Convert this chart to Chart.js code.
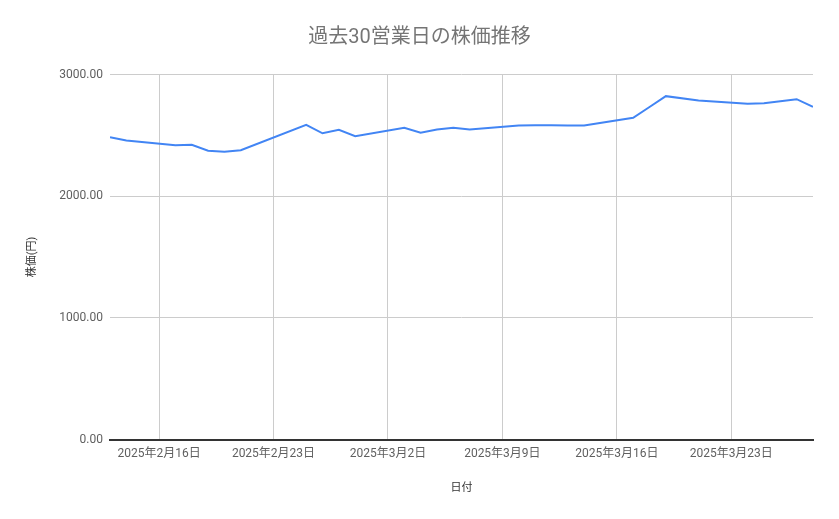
<!DOCTYPE html>
<html>
<head>
<meta charset="utf-8">
<script src="https://cdn.jsdelivr.net/npm/chart.js@4.4.1/dist/chart.umd.min.js"></script>
<style>
  html, body { margin: 0; padding: 0; background: #fff; }
  #wrap { width: 839px; height: 519px; }
</style>
</head>
<body>
<div id="wrap"><canvas id="c" width="839" height="519"></canvas></div>
<script>
// ---- data ----
const startDate = "2025-02-13";
const endDate = "2025-03-28";
const dates = [
  "2025-02-13","2025-02-14",
  "2025-02-17","2025-02-18","2025-02-19","2025-02-20","2025-02-21",
  "2025-02-25","2025-02-26","2025-02-27","2025-02-28",
  "2025-03-03","2025-03-04","2025-03-05","2025-03-06","2025-03-07",
  "2025-03-10","2025-03-11","2025-03-12","2025-03-13","2025-03-14",
  "2025-03-17","2025-03-18","2025-03-19","2025-03-21",
  "2025-03-24","2025-03-25","2025-03-26","2025-03-27","2025-03-28"
];
const prices = [
  2485, 2457,
  2419, 2422, 2373, 2365, 2378,
  2587, 2517, 2545, 2493,
  2562, 2521, 2548, 2562, 2548,
  2581, 2583, 2582, 2581, 2580,
  2644, 2733, 2822, 2786,
  2759, 2764, 2781, 2797, 2734
];
const tickDates = ["2025-02-16","2025-02-23","2025-03-02","2025-03-09","2025-03-16","2025-03-23"];
const yTicks = [0, 1000, 2000, 3000];
const chartTitle = "過去30営業日の株価推移";
const xTitle = "日付";
const yTitle = "株価(円)";

// ---- helpers ----
const DAY = 86400000;
function toUTC(s) { const [y,m,d] = s.split("-").map(Number); return Date.UTC(y, m-1, d); }
const t0 = toUTC(startDate);
function dayIndex(s) { return Math.round((toUTC(s) - t0) / DAY); }
function fmtDay(v) {
  const d = new Date(t0 + v * DAY);
  return d.getUTCFullYear() + "年" + (d.getUTCMonth()+1) + "月" + d.getUTCDate() + "日";
}

const FONT = "Roboto, 'Noto Sans CJK JP', 'Noto Sans', sans-serif";
const points = dates.map((d, i) => ({ x: dayIndex(d), y: prices[i] }));
const tickVals = tickDates.map(dayIndex);

new Chart(document.getElementById("c"), {
  type: "line",
  data: {
    datasets: [{
      data: points,
      borderColor: "#4285F4",
      backgroundColor: "#4285F4",
      borderWidth: 2,
      pointRadius: 0,
      tension: 0,
      fill: false
    }]
  },
  options: {
    responsive: false,
    animation: false,
    devicePixelRatio: 1,
    layout: { padding: { left: 26, right: 26, top: 0, bottom: 0 } },
    plugins: {
      legend: { display: false },
      tooltip: { enabled: false },
      title: {
        display: true,
        text: chartTitle,
        color: "#757575",
        font: { family: FONT, size: 20, weight: "normal" },
        padding: { top: 26, bottom: 24.5 },
        align: "center",
        fullSize: true
      }
    },
    scales: {
      x: {
        type: "linear",
        min: dayIndex(startDate),
        max: dayIndex(endDate),
        afterBuildTicks: (scale) => { scale.ticks = tickVals.map(v => ({ value: v })); },
        afterFit: (scale) => { scale.height = 79.5; },
        ticks: {
          autoSkip: false,
          maxRotation: 0,
          padding: 7,
          color: "#5f5f5f",
          font: { family: FONT, size: 12 },
          callback: (v) => fmtDay(v)
        },
        grid: { color: "#cccccc", lineWidth: 1, drawTicks: false },
        border: { display: true, color: "#333333", width: 2 },
        title: {
          display: true,
          text: xTitle,
          color: "#333333",
          font: { family: FONT, size: 11 },
          padding: { top: 0, bottom: 24 }
        }
      },
      y: {
        type: "linear",
        min: 0,
        max: 3000,
        afterBuildTicks: (scale) => { scale.ticks = yTicks.map(v => ({ value: v })); },
        afterFit: (scale) => { scale.width = 84; },
        ticks: {
          padding: 7,
          color: "#5f5f5f",
          font: { family: FONT, size: 12 },
          callback: (v) => Number(v).toFixed(2)
        },
        grid: {
          color: (ctx) => (ctx.tick && ctx.tick.value === 0) ? "rgba(0,0,0,0)" : "#cccccc",
          lineWidth: 1,
          drawTicks: false
        },
        border: { display: false },
        title: {
          display: true,
          text: yTitle,
          color: "#333333",
          font: { family: FONT, size: 11 },
          padding: { top: 0, bottom: 0 }
        }
      }
    }
  }
});
</script>
</body>
</html>
